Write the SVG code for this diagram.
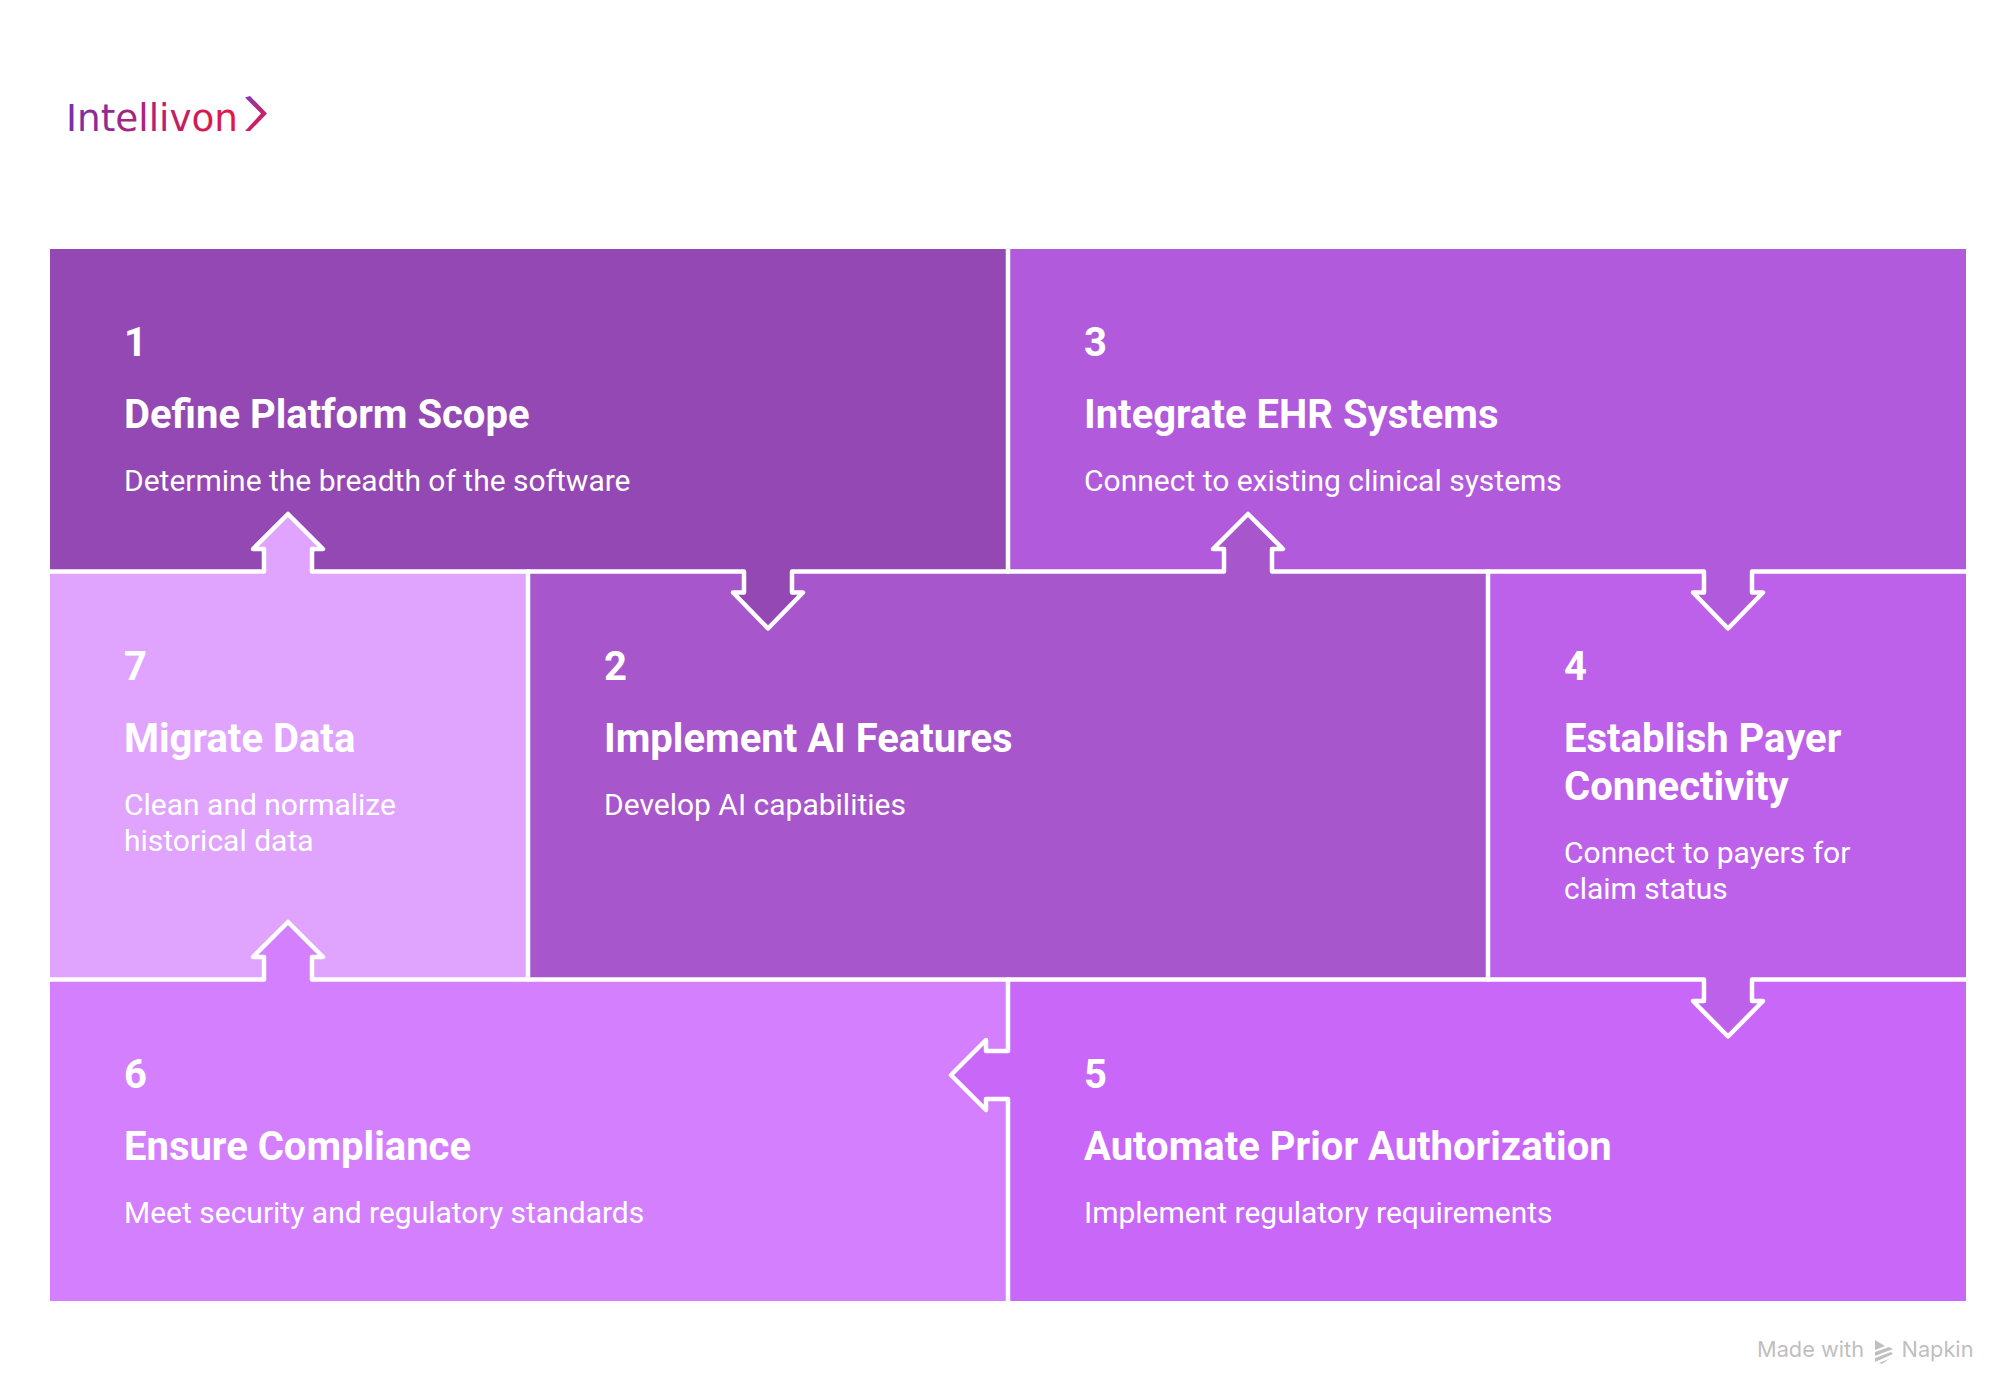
<svg xmlns="http://www.w3.org/2000/svg" width="2016" height="1400" viewBox="0 0 2016 1400">
<style>
text{font-family:"Roboto","Liberation Sans",sans-serif;fill:#fff}
.n{font-size:40px;font-weight:700}
.t{font-size:40px;font-weight:700}
.d{font-size:30px;font-weight:400}
.conn{stroke:#fff;stroke-width:4.500;stroke-linejoin:round;stroke-linecap:round;fill:none}
.wm{font-family:"Inter","Liberation Sans",sans-serif;font-size:22px;fill:#bfbfbf;font-weight:400}
</style>
<defs>
<linearGradient id="lg" gradientUnits="userSpaceOnUse" x1="68" y1="0" x2="238" y2="0"><stop offset="0" stop-color="#7b2fa8"/><stop offset="1" stop-color="#e8173f"/></linearGradient>
<linearGradient id="lc" gradientUnits="userSpaceOnUse" x1="245" y1="98" x2="267" y2="125"><stop offset="0" stop-color="#8a3aa8"/><stop offset="1" stop-color="#e0184f"/></linearGradient>
</defs>
<rect width="2016" height="1400" fill="#fff"/>
<g id="logo">
<text x="66" y="131" textLength="172" lengthAdjust="spacingAndGlyphs" style="font-family:'DejaVu Sans',sans-serif;font-size:37px;font-weight:400;fill:url(#lg)">Intellivon</text>
<path d="M250 96L267 113.500L250 131H245L261 113.500L245 97.500Z" fill="url(#lc)"/>
</g>
<g id="node-1"><rect x="50" y="249" width="958" height="322.500" fill="#9448b4"/>
<text class="n" x="124" y="356">1</text><text class="t" x="124" y="428">Define Platform Scope</text><text class="d" x="124" y="491">Determine the breadth of the software</text></g>
<g id="node-3"><rect x="1008" y="249" width="958" height="322.500" fill="#b15adc"/>
<text class="n" x="1084" y="356">3</text><text class="t" x="1084" y="428">Integrate EHR Systems</text><text class="d" x="1084" y="491">Connect to existing clinical systems</text></g>
<g id="node-7"><rect x="50" y="571.500" width="478" height="408" fill="#e0a4fe"/>
<text class="n" x="124" y="680">7</text><text class="t" x="124" y="752">Migrate Data</text><text class="d" x="124" y="815">Clean and normalize</text><text class="d" x="124" y="851">historical data</text></g>
<g id="node-2"><rect x="528" y="571.500" width="960" height="408" fill="#a856cc"/>
<text class="n" x="604" y="680">2</text><text class="t" x="604" y="752">Implement AI Features</text><text class="d" x="604" y="815">Develop AI capabilities</text></g>
<g id="node-4"><rect x="1488" y="571.500" width="478" height="408" fill="#be61ea"/>
<text class="n" x="1564" y="680">4</text><text class="t" x="1564" y="752">Establish Payer</text><text class="t" x="1564" y="800">Connectivity</text><text class="d" x="1564" y="863">Connect to payers for</text><text class="d" x="1564" y="899">claim status</text></g>
<g id="node-6"><rect x="50" y="979.500" width="958" height="321.500" fill="#d47ffe"/>
<text class="n" x="124" y="1088">6</text><text class="t" x="124" y="1160">Ensure Compliance</text><text class="d" x="124" y="1223">Meet security and regulatory standards</text></g>
<g id="node-5"><rect x="1008" y="979.500" width="958" height="321.500" fill="#c968f8"/>
<text class="n" x="1084" y="1088">5</text><text class="t" x="1084" y="1160">Automate Prior Authorization</text><text class="d" x="1084" y="1223">Implement regulatory requirements</text></g>
<g id="arrow-fills" stroke="none">
<path d="M264 573V549H253L288 514L323 549H312V573Z" fill="#e0a4fe"/>
<path d="M744 570V592.500H733L768 628.500L803 592.500H792V570Z" fill="#9448b4"/>
<path d="M1224 573V549H1213L1248 514L1283 549H1272V573Z" fill="#a856cc"/>
<path d="M1704 570V592.500H1693L1728 628.500L1763 592.500H1752V570Z" fill="#b15adc"/>
<path d="M264 981V957H253L288 922L323 957H312V981Z" fill="#d47ffe"/>
<path d="M1704 978V1001H1693L1728 1036.500L1763 1001H1752V978Z" fill="#be61ea"/>
<path d="M1010 1051V1099H986V1110L951 1075L986 1040V1051Z" fill="#c968f8"/>
</g>
<g id="connectors" class="conn">
<path d="M50 571.500H264V549H253L288 514L323 549H312V571.500H528"/>
<path d="M528 571.500H744V592.500H733L768 628.500L803 592.500H792V571.500H1008"/>
<path d="M1008 571.500H1224V549H1213L1248 514L1283 549H1272V571.500H1488"/>
<path d="M1488 571.500H1704V592.500H1693L1728 628.500L1763 592.500H1752V571.500H1966"/>
<path d="M50 979.500H264V957H253L288 922L323 957H312V979.500H1488"/>
<path d="M1488 979.500H1704V1001H1693L1728 1036.500L1763 1001H1752V979.500H1966"/>
<path d="M1008 979.500V1051H986V1040L951 1075L986 1110V1099H1008V1301"/>
<path d="M1008 249V571.500"/><path d="M528 571.500V979.500"/><path d="M1488 571.500V979.500"/>
</g>
<g id="watermark">
<text class="wm" x="1757" y="1357" textLength="107" lengthAdjust="spacingAndGlyphs">Made with</text>
<path d="M1875 1340L1885 1346L1875 1350ZM1875 1352L1889 1347L1893 1349L1875 1356ZM1875 1358L1891 1352L1893 1354L1875 1362ZM1879 1363L1889 1359L1882 1364Z" fill="#bfbfbf"/>
<text class="wm" x="1901.500" y="1357" textLength="72" lengthAdjust="spacingAndGlyphs">Napkin</text>
</g>
</svg>
